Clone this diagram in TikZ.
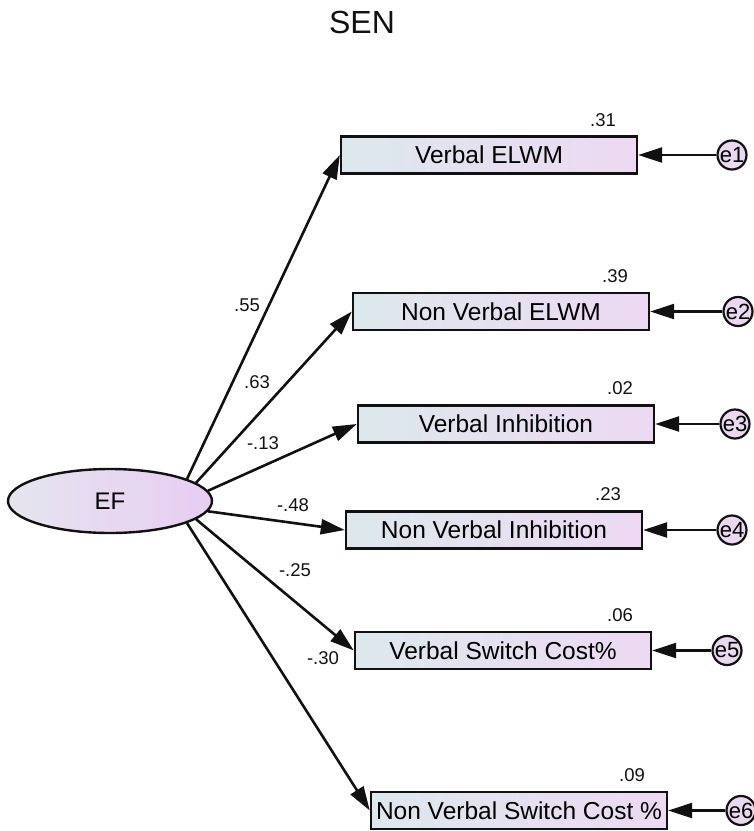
\documentclass[tikz,border=0pt]{standalone}
\usepackage{fontspec}
\setmainfont{Liberation Sans}
\usetikzlibrary{arrows.meta,shapes.geometric}
\definecolor{boxL}{HTML}{DDE8EC}
\definecolor{boxR}{HTML}{EDD9F3}
\definecolor{efL}{HTML}{E6E4EE}
\definecolor{efR}{HTML}{E7CDF2}
\definecolor{errC}{HTML}{E9D8EF}
\definecolor{ink}{HTML}{111111}
\tikzset{
  obsbox/.style={draw=ink, line width=2.4pt, left color=boxL, right color=boxR,
    minimum width=296pt, minimum height=37pt, inner sep=0pt, font=\fontsize{24.5}{24.5}\selectfont},
  latent/.style={ellipse, draw=ink, line width=2.4pt, left color=efL, right color=efR,
    minimum width=204pt, minimum height=64pt, inner sep=0pt, font=\fontsize{24}{24}\selectfont},
  errnode/.style={circle, draw=ink, line width=2.2pt, fill=errC, minimum size=29pt,
    inner sep=0pt, font=\fontsize{22}{22}\selectfont},
  arr/.style={draw=ink, line width=2.6pt, -{Triangle[length=24pt,width=15pt]}},
  lbl/.style={inner sep=0pt, font=\fontsize{18.5}{18.5}\selectfont, text=ink},
}
\begin{document}
\begin{tikzpicture}[x=1pt,y=-1pt]
\useasboundingbox (0,0) rectangle (754,831);
\node[inner sep=0pt, font=\fontsize{32}{32}\selectfont, text=ink] (title) at (362,22) {SEN};

\node[latent] (EF) at (110,501) {EF};

\node[obsbox] (b1) at (489,155) {Verbal ELWM};
\node[obsbox] (b2) at (501,311.5) {Non Verbal ELWM};
\node[obsbox] (b3) at (506,424) {Verbal Inhibition};
\node[obsbox] (b4) at (494,530) {Non Verbal Inhibition};
\node[obsbox] (b5) at (503,650.5) {Verbal Switch Cost\%};
\node[obsbox] (b6) at (519,810.5) {Non Verbal Switch Cost \%};

\node[errnode] (e1) at (732,155) {e1};
\node[errnode] (e2) at (738,311.5) {e2};
\node[errnode] (e3) at (735,424) {e3};
\node[errnode] (e4) at (732,530) {e4};
\node[errnode] (e5) at (727,650.5) {e5};
\node[errnode] (e6) at (741,810.5) {e6};

\node[lbl] (r1) at (603,120) {.31};
\node[lbl] (r2) at (615,276) {.39};
\node[lbl] (r3) at (620,388) {.02};
\node[lbl] (r4) at (608,494) {.23};
\node[lbl] (r5) at (620,615) {.06};
\node[lbl] (r6) at (632,775) {.09};

\draw[arr] (EF.16.6) -- (b1.west);
\draw[arr] (EF.12.6) -- (b2.west);
\draw[arr] (EF.6.4) -- (b3.west);
\draw[arr] (EF.-6.3) -- (b4.west);
\draw[arr] (EF.-12.3) -- (b5.west);
\draw[arr] (EF.-16) -- (b6.west);

\node[lbl] (w1) at (247,305) {.55};
\node[lbl] (w2) at (257,382) {.63};
\node[lbl] (w3) at (263,443) {-.13};
\node[lbl] (w4) at (293,505) {-.48};
\node[lbl] (w5) at (295,570) {-.25};
\node[lbl] (w6) at (323,658) {-.30};

\draw[arr] (e1) -- (b1.east);
\draw[arr] (e2) -- (b2.east);
\draw[arr] (e3) -- (b3.east);
\draw[arr] (e4) -- (b4.east);
\draw[arr] (e5) -- (b5.east);
\draw[arr] (e6) -- (b6.east);
\end{tikzpicture}
\end{document}
